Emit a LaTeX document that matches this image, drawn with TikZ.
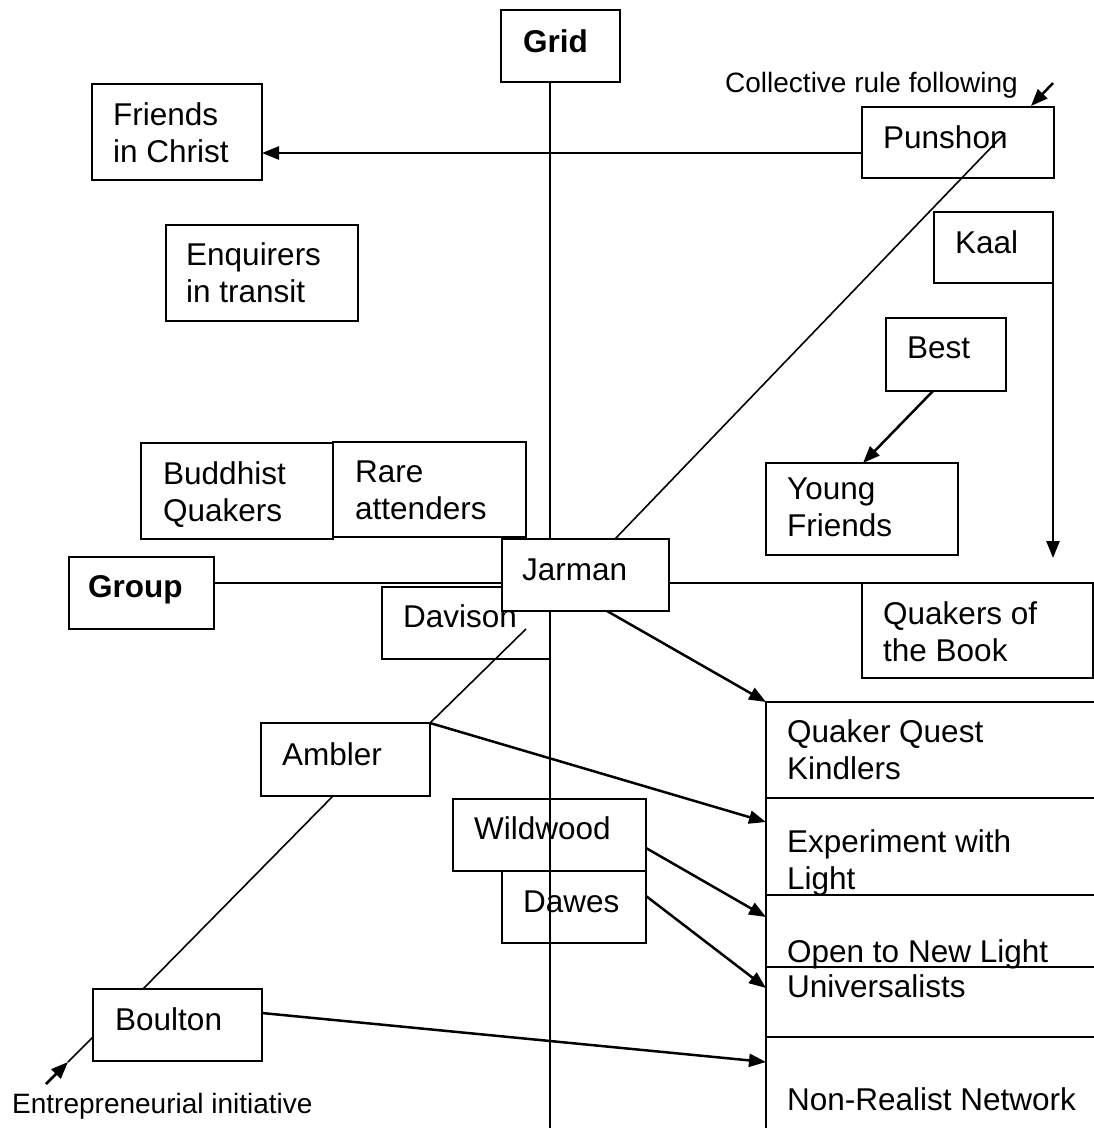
\documentclass[tikz,border=0pt]{standalone}
\usepackage{fontspec}
\setmainfont{Liberation Sans}
\usetikzlibrary{arrows.meta}
% multi-line label whose baseline is that of its first line
\newcommand\ml[1]{\begin{tabular}[t]{@{}l@{}}#1\end{tabular}}
\begin{document}
\begin{tikzpicture}[x=1pt,y=-1pt,
  box/.style={draw=black,fill=white,line width=2pt,anchor=north west,inner sep=0pt,outer sep=0pt},
  txt/.style={anchor=base west,inner sep=0pt,font=\fontsize{31.5}{37}\selectfont},
  txtb/.style={anchor=base west,inner sep=0pt,font=\fontsize{31.5}{37}\selectfont\bfseries},
  tag/.style={anchor=base west,inner sep=0pt,font=\fontsize{28}{32}\selectfont},
  axis/.style={line width=2pt},
  diag/.style={line width=1.6pt},
  arr/.style={line width=2.5pt,-{Triangle[length=17pt,width=13pt]}},
]
\useasboundingbox (0,0) rectangle (1094,1128);
\fill[white] (0,0) rectangle (1094,1128);
\clip (0,0) rectangle (1094,1128);

% boxes that the grid axis runs across
\node[box,minimum width=193pt,minimum height=72pt] (wild) at (453,799) {};
\node[txt] (wild-t) at ([shift={(21,40)}]wild.north west) {Wildwood};
\node[box,minimum width=144pt,minimum height=72pt] (dawes) at (502,871) {};
\node[txt] (dawes-t) at ([shift={(21,41)}]dawes.north west) {Dawes};

% axes
\node[box,minimum width=119pt,minimum height=72pt] (grid) at (501,10) {};
\node[txtb] (grid-t) at ([shift={(22,42)}]grid.north west) {Grid};
\node[box,minimum width=145pt,minimum height=72pt] (group) at (69,557) {};
\node[txtb] (group-t) at ([shift={(19,40)}]group.north west) {Group};
\coordinate (vend) at (550,1140);
\coordinate (hend) at (1100,583);
\draw[axis] ([xshift=49pt]grid.south west) -- (vend);
\draw[axis] ([shift={(0,26)}]group.north east) -- (hend);

% centre
\node[box,minimum width=168pt,minimum height=72pt] (davison) at (382,587) {};
\node[box,minimum width=167pt,minimum height=72pt] (jarman) at (502,539) {};
\node[txt] (davison-t) at ([shift={(21,40)}]davison.north west) {Davison};
\node[txt] (jarman-t) at ([shift={(20,41)}]jarman.north west) {Jarman};

% upper left
\node[box,minimum width=170pt,minimum height=96pt] (friends) at (92,84) {};
\node[txt] (friends-t) at ([shift={(21,41)}]friends.north west) {\ml{Friends\\in Christ}};
\node[box,minimum width=192pt,minimum height=96pt] (enq) at (166,225) {};
\node[txt] (enq-t) at ([shift={(20,40)}]enq.north west) {\ml{Enquirers\\in transit}};
\node[box,minimum width=192pt,minimum height=96pt] (buddhist) at (141,443) {};
\node[txt] (buddhist-t) at ([shift={(22,41)}]buddhist.north west) {\ml{Buddhist\\Quakers}};
\node[box,minimum width=193pt,minimum height=95pt] (rare) at (333,442) {};
\node[txt] (rare-t) at ([shift={(22,40)}]rare.north west) {\ml{Rare\\attenders}};

% upper right
\node[box,minimum width=192pt,minimum height=71pt] (punshon) at (862,107) {};
\node[txt] (punshon-t) at ([shift={(21,41)}]punshon.north west) {Punshon};
\node[box,minimum width=119pt,minimum height=71pt] (kaal) at (934,212) {};
\node[txt] (kaal-t) at ([shift={(21,41)}]kaal.north west) {Kaal};
\node[box,minimum width=120pt,minimum height=73pt] (best) at (886,318) {};
\node[txt] (best-t) at ([shift={(21,40)}]best.north west) {Best};
\node[box,minimum width=192pt,minimum height=92pt] (yf) at (766,463) {};
\node[txt] (yf-t) at ([shift={(21,36)}]yf.north west) {\ml{Young\\Friends}};
\node[box,minimum width=231pt,minimum height=95pt] (quakers) at (862,583) {};
\node[txt] (quakers-t) at ([shift={(21,41)}]quakers.north west) {\ml{Quakers of\\the Book}};

% right-hand column
\node[box,minimum width=340pt,minimum height=96pt] (qq) at (766,702) {};
\node[txt] (qq-t) at ([shift={(21,40)}]qq.north west) {\ml{Quaker Quest\\Kindlers}};
\node[box,minimum width=340pt,minimum height=97pt] (exp) at (766,798) {};
\node[txt] (exp-t) at ([shift={(21,54)}]exp.north west) {\ml{Experiment with\\Light}};
\node[box,minimum width=340pt,minimum height=72pt] (open) at (766,895) {};
\node[box,minimum width=340pt,minimum height=70pt] (univ) at (766,967) {};
\node[txt] (open-t) at ([shift={(21,67)}]open.north west) {Open to New Light};
\node[txt] (univ-t) at ([shift={(21,30)}]univ.north west) {Universalists};
\node[box,minimum width=340pt,minimum height=100pt] (nr) at (766,1037) {};
\node[txt] (nr-t) at ([shift={(21,73)}]nr.north west) {Non-Realist Network};

% lower left
\node[box,minimum width=169pt,minimum height=73pt] (ambler) at (261,723) {};
\node[txt] (ambler-t) at ([shift={(21,42)}]ambler.north west) {Ambler};
\node[box,minimum width=169pt,minimum height=72pt] (boulton) at (93,989) {};
\node[txt] (boulton-t) at ([shift={(22,41)}]boulton.north west) {Boulton};

% diagonal axis: entrepreneurial initiative -- collective rule following
\node[tag] (coll) at (725,92) {Collective rule following};
\node[tag] (entre) at (12,1113) {Entrepreneurial initiative};
\coordinate (ptop) at ([shift={(143,26)}]punshon.north west);
\coordinate (ctail) at ([shift={(-1,-24)}]punshon.north east);
\coordinate (chead) at ([shift={(-23,-1)}]punshon.north east);
\coordinate (etail) at ([shift={(-47,95)}]boulton.north west);
\coordinate (emid) at ([shift={(-25,73)}]boulton.north west);
\draw[diag] ([xshift=113pt]jarman.north west) -- (ptop);
\draw[diag] (ambler.north east) -- ([shift={(144,42)}]davison.north west);
\draw[diag] ([xshift=72pt]ambler.south west) -- ([xshift=50pt]boulton.north west);
\draw[diag] ([shift={(0,48)}]boulton.north west) -- (emid);
\draw[arr] (etail) -- (emid);
\draw[arr] (ctail) -- (chead);

% influence arrows
\coordinate (pa) at ([shift={(0,46)}]punshon.north west);
\draw[arr] (pa) -- (pa -| friends.east);
\coordinate (kaaltip) at ([shift={(0,275)}]kaal.south east);
\draw[arr] ([shift={(0,-12)}]kaal.south east) -- (kaaltip);
\draw[arr] ([xshift=47pt]best.south west) -- ([xshift=97pt]yf.north west);
\draw[arr] ([xshift=105pt]jarman.south west) -- (qq.north west);
\draw[arr] (ambler.north east) -- ([shift={(0,24)}]exp.north west);
\draw[arr] ([shift={(0,49)}]wild.north east) -- ([shift={(0,22)}]open.north west);
\draw[arr] ([shift={(0,25)}]dawes.north east) -- ([shift={(0,21)}]univ.north west);
\draw[arr] ([shift={(0,24)}]boulton.north east) -- ([shift={(0,25)}]nr.north west);
\end{tikzpicture}
\end{document}
